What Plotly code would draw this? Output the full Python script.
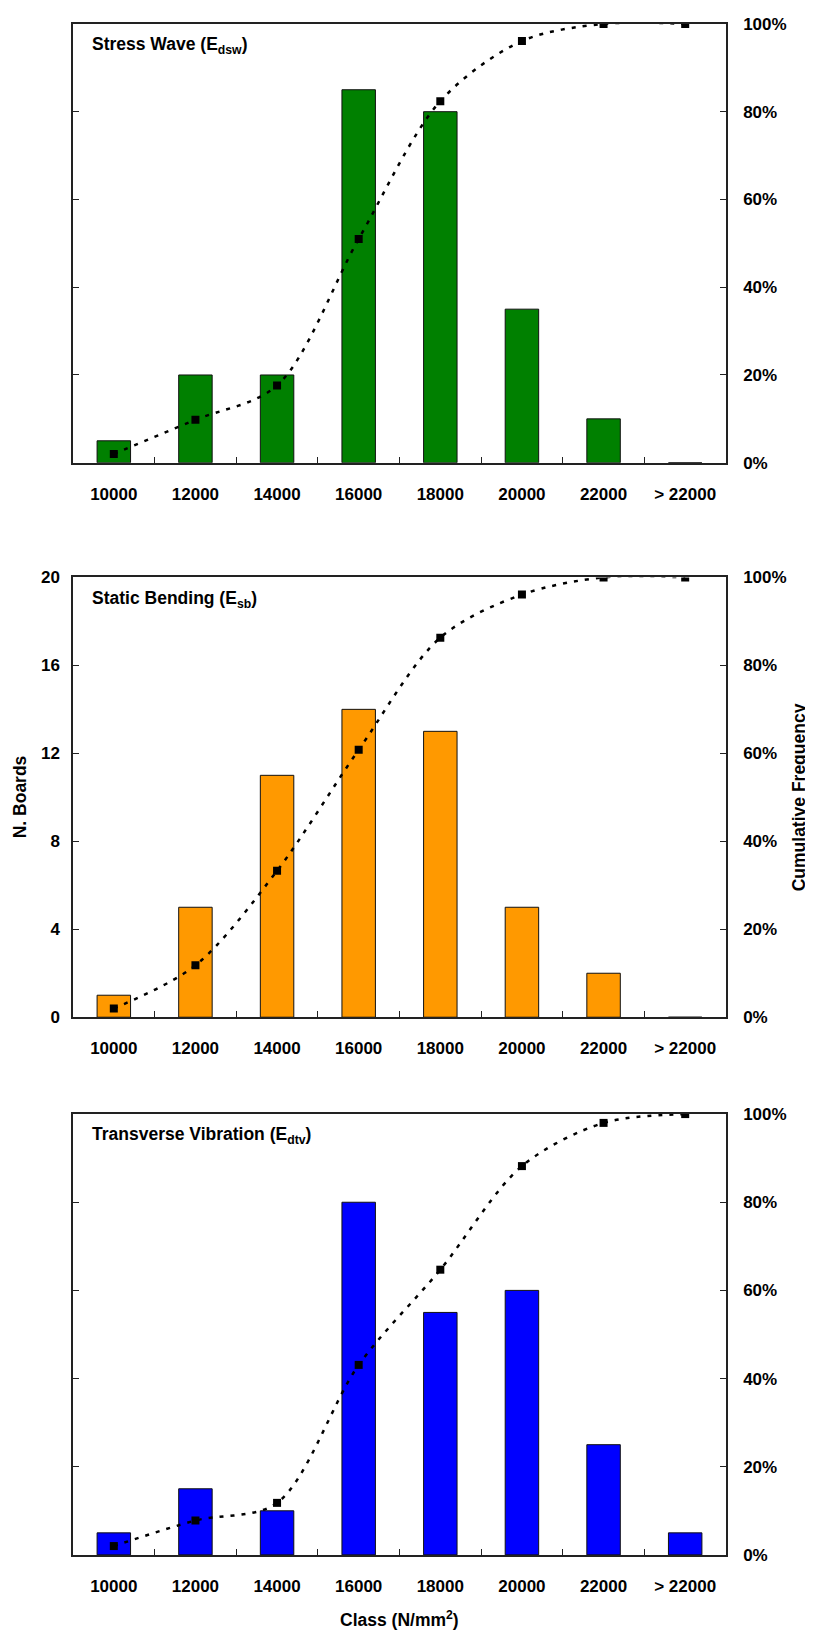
import plotly.graph_objects as go

# ---------------- data ----------------
classes = ["10000", "12000", "14000", "16000", "18000", "20000", "22000", "> 22000"]

stress_wave_counts = [1, 4, 4, 17, 16, 7, 2, 0]
stress_wave_cum = [0.020, 0.098, 0.176, 0.510, 0.824, 0.961, 1.000, 1.000]

static_bending_counts = [1, 5, 11, 14, 13, 5, 2, 0]
static_bending_cum = [0.020, 0.118, 0.333, 0.608, 0.863, 0.961, 1.000, 1.000]

transverse_counts = [1, 3, 2, 16, 11, 12, 5, 1]
transverse_cum = [0.020, 0.078, 0.118, 0.431, 0.647, 0.882, 0.980, 1.000]

panel_titles = ["Stress Wave (E<sub>dsw</sub>)",
                "Static Bending (E<sub>sb</sub>)",
                "Transverse Vibration (E<sub>dtv</sub>)"]
bar_colors = ["#008000", "#FF9900", "#0000FF"]

counts = [stress_wave_counts, static_bending_counts, transverse_counts]
cums = [stress_wave_cum, static_bending_cum, transverse_cum]

# ---------------- layout geometry (page pixels) ----------------
PAGE_W, PAGE_H = 813, 1640
OFF = 8  # default body margin of the html page
W, H = PAGE_W - OFF, PAGE_H - OFF
x_left, x_right = 73, 726
panels_px = [(15, 459), (575, 1020), (1118, 1564)]  # (top, bottom)


def px_x(p):
    return (p - OFF) / W


def px_y(p):
    return 1 - (p - OFF) / H


FONT = "Arial, 'Liberation Sans', sans-serif"
AXC = "#222222"
TICK_SIZE = 17
TITLE_SIZE = 17.5

fig = go.Figure()
layout = dict(
    width=W, height=H,
    margin=dict(l=0, r=0, t=0, b=0),
    paper_bgcolor="white", plot_bgcolor="white",
    showlegend=False,
    font=dict(family=FONT, color="black", size=TICK_SIZE),
)

annotations = []
for i in range(3):
    n = i + 1
    xa = "x" if n == 1 else f"x{n}"
    ya = f"y{2 * i + 1}"
    ya2 = f"y{2 * i + 2}"
    top, bot = panels_px[i]
    dom_y = [px_y(bot), px_y(top)]

    fig.add_trace(go.Bar(
        x=classes, y=counts[i], xaxis=xa, yaxis=ya,
        marker=dict(color=bar_colors[i], line=dict(color="#111111", width=1)),
        width=0.41,
    ))
    fig.add_trace(go.Scatter(
        x=classes, y=cums[i], xaxis=xa, yaxis=ya2,
        mode="lines+markers",
        line=dict(color="black", width=2.5, dash="4px,7px", shape="spline", smoothing=0.9),
        marker=dict(symbol="square", size=8, color="black"),
    ))

    xkey = "xaxis" if n == 1 else f"xaxis{n}"
    ykey = f"yaxis{2 * i + 1}"
    y2key = f"yaxis{2 * i + 2}"

    layout[xkey] = dict(
        domain=[px_x(x_left), px_x(x_right)],
        anchor=ya,
        type="category",
        tickson="boundaries",
        ticks="inside", ticklen=6, tickwidth=1, tickcolor=AXC,
        showline=True, linecolor=AXC, linewidth=1.5, mirror=True,
        showgrid=False, zeroline=False,
        tickfont=dict(family=FONT, size=TICK_SIZE, weight="bold"),
        ticklabelstandoff=15,
        range=[-0.5, 7.5],
    )
    layout[ykey] = dict(
        domain=dom_y,
        anchor=xa,
        range=[0, 20], dtick=4, tick0=0,
        ticks="inside", ticklen=6, tickwidth=1, tickcolor=AXC,
        showline=True, linecolor=AXC, linewidth=1.5,
        showgrid=False, zeroline=False,
        showticklabels=(i == 1),
        tickfont=dict(family=FONT, size=TICK_SIZE, weight="bold"),
        ticklabelstandoff=8,
    )
    layout[y2key] = dict(
        domain=dom_y,
        anchor=xa,
        overlaying=ya,
        side="right",
        range=[0, 1], dtick=0.2, tick0=0,
        tickformat=".0%",
        ticks="inside", ticklen=6, tickwidth=1, tickcolor=AXC,
        showline=True, linecolor=AXC, linewidth=1.5,
        showgrid=False, zeroline=False,
        tickfont=dict(family=FONT, size=TICK_SIZE, weight="bold"),
        ticklabelstandoff=12,
    )

    annotations.append(dict(
        text=panel_titles[i], xref="paper", yref="paper",
        x=px_x(90), y=px_y(top + 22), xanchor="left", yanchor="middle",
        showarrow=False, font=dict(family=FONT, size=TITLE_SIZE, weight="bold"),
    ))

mid2 = (panels_px[1][0] + panels_px[1][1]) / 2
annotations.append(dict(
    text="N. Boards", xref="paper", yref="paper",
    x=px_x(20), y=px_y(mid2),
    xanchor="center", yanchor="middle", textangle=-90, showarrow=False,
    font=dict(family=FONT, size=TITLE_SIZE, weight="bold"),
))
annotations.append(dict(
    text="Cumulative Frequency", xref="paper", yref="paper",
    x=px_x(799), y=px_y(mid2),
    xanchor="center", yanchor="middle", textangle=-90, showarrow=False,
    font=dict(family=FONT, size=TITLE_SIZE, weight="bold"),
))
annotations.append(dict(
    text="Class (N/mm<sup>2</sup>)", xref="paper", yref="paper",
    x=px_x((x_left + x_right) / 2), y=px_y(1629),
    xanchor="center", yanchor="middle", showarrow=False,
    font=dict(family=FONT, size=TITLE_SIZE, weight="bold"),
))

layout["annotations"] = annotations
fig.update_layout(**layout)

fig.write_html("out.html")
